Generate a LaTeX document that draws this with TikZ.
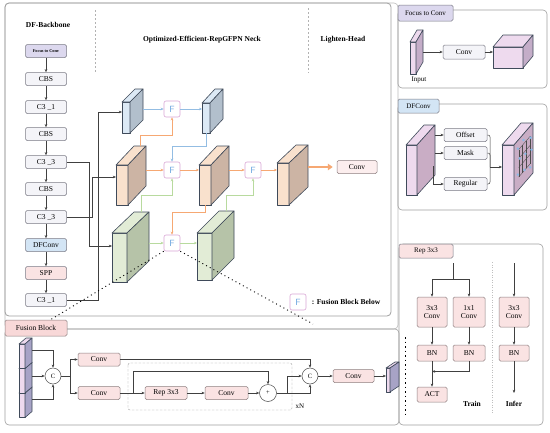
\documentclass[tikz,border=0pt]{standalone}
\usepackage{fontspec}
\setmainfont{Liberation Serif}
\usetikzlibrary{arrows.meta,calc}
\definecolor{pnl}{HTML}{A0A0A0}
\definecolor{bbf}{HTML}{F4F4F8}
\definecolor{bbd}{HTML}{7A7A85}
\definecolor{purf}{HTML}{DCD8EE}
\definecolor{bluf}{HTML}{D3E5F5}
\definecolor{pkf}{HTML}{FAE3E3}
\definecolor{pkd}{HTML}{8E7F80}
\definecolor{fusf}{HTML}{F8D8D8}
\definecolor{blF}{HTML}{DCE9F5}
\definecolor{blS}{HTML}{B2BFCC}
\definecolor{orF}{HTML}{F9E1CD}
\definecolor{orS}{HTML}{CCB4A4}
\definecolor{grF}{HTML}{E2ECD6}
\definecolor{grS}{HTML}{B6C3A8}
\definecolor{puF}{HTML}{EEDAEE}
\definecolor{puS}{HTML}{C4ADC8}
\definecolor{dfS}{HTML}{C9ADC5}
\definecolor{fuS}{HTML}{A7A3C6}
\definecolor{orL}{HTML}{F6A873}
\definecolor{blL}{HTML}{93BDE3}
\definecolor{grL}{HTML}{B8DA9E}
\definecolor{fpk}{HTML}{D9A6D6}
\definecolor{fbl}{HTML}{6FA8DF}
\definecolor{edge}{HTML}{3F4A5A}
\newcommand{\mycuboid}[9]{%
  \filldraw[blk,fill=#8] (#2,#3) rectangle ++(#4,#5);
  \filldraw[blk,fill=#8] (#2,#3) -- ++(#6,-#7) -- ++(#4,0) -- ++(-#6,#7) -- cycle;
  \filldraw[blk,fill=#9] (#2+#4,#3) -- ++(#6,-#7) -- ++(0,#5) -- ++(-#6,#7) -- cycle;
  \coordinate (#1w) at (#2,#3+#5/2);
  \coordinate (#1e) at (#2+#4+#6,#3+#5/2-#7);
  \coordinate (#1n) at (#2+#6+#4/2,#3-#7);
  \coordinate (#1s) at (#2+#4/2,#3+#5);
}
\begin{document}
\begin{tikzpicture}[x=1pt,y=-1pt,
  >={Stealth[length=3.2pt,width=2.6pt]},
  panel/.style={draw=pnl,rounded corners=4pt,line width=0.6pt},
  bb/.style={draw=bbd,fill=bbf,rounded corners=1.5pt,minimum width=41pt,minimum height=13pt,inner sep=0pt,font=\fontsize{7.5}{8}\selectfont,line width=0.5pt},
  lab/.style={draw=bbd,rounded corners=1.5pt,inner sep=0pt,font=\fontsize{7}{8}\selectfont,line width=0.5pt},
  pk/.style={draw=pkd,fill=pkf,rounded corners=1.5pt,inner sep=0pt,font=\fontsize{7.5}{8}\selectfont,line width=0.5pt,align=center},
  fb/.style={draw=fpk,fill=white,rounded corners=2pt,minimum size=16pt,inner sep=0pt,text=fbl,font=\sffamily\fontsize{9}{9}\selectfont,line width=0.6pt},
  conn/.style={draw=black!75,line width=0.5pt,->},
  ln/.style={draw=black!75,line width=0.5pt},
  ol/.style={draw=orL,line width=0.7pt,-{Stealth[length=3pt,width=2.6pt]}},
  bl/.style={draw=blL,line width=0.7pt,-{Stealth[length=3pt,width=2.6pt]}},
  gl/.style={draw=grL,line width=0.7pt,-{Stealth[length=3pt,width=2.6pt]}},
  blk/.style={draw=edge,line width=0.6pt,line join=round},
  zl/.style={black,line width=0.9pt,dash pattern=on 1pt off 3.2pt},
  ttl/.style={font=\bfseries\fontsize{7.5}{8}\selectfont},
  circ/.style={draw=black!70,circle,minimum size=16pt,inner sep=0pt,font=\fontsize{6.5}{7}\selectfont,fill=white,line width=0.5pt}
]
\useasboundingbox (0,0) rectangle (550,432);
\fill[white] (0,0) rectangle (550,432);

% ---------- frames ----------
\draw[panel,draw=pnl!70] (5,3) rectangle (398,329);
\draw[panel,line width=0.8pt] (5,3) rectangle (391,316);
\draw[panel] (5,329) rectangle (399,425);
\draw[panel] (398,10) rectangle (547,88);
\draw[panel] (398,104) rectangle (547,210);
\draw[panel] (399,244) rectangle (543,425);

\draw[gray!60,dash pattern=on 2pt off 2pt] (95,10) -- (95,73);
\draw[gray!60,dash pattern=on 2pt off 2pt] (308,8) -- (308,73);

\node[ttl] (t1) at (48,25) {DF-Backbone};
\node[ttl] (t2) at (202,40) {Optimized-Efficient-RepGFPN Neck};
\node[ttl] (t3) at (343,40) {Lighten-Head};

% ---------- backbone ----------
\node[bb,fill=purf,font=\bfseries\fontsize{4.3}{5}\selectfont] (b0) at (46,51) {Focus to Conv};
\node[bb] (b1) at (46,79) {CBS};
\node[bb] (b2) at (46,107) {C3 \_1};
\node[bb] (b3) at (46,134) {CBS};
\node[bb] (b4) at (46,162) {C3 \_3};
\node[bb] (b5) at (46,189) {CBS};
\node[bb] (b6) at (46,217) {C3 \_3};
\node[bb,fill=bluf] (b7) at (46,245) {DFConv};
\node[bb,fill=pkf] (b8) at (46,273) {SPP};
\node[bb] (b9) at (46,300) {C3 \_1};
\foreach \a/\b in {b0/b1,b1/b2,b2/b3,b3/b4,b4/b5,b5/b6,b6/b7,b7/b8,b8/b9}
  \draw[conn] (\a) -- (\b);

\coordinate (gAin) at (112,246);
\coordinate (oAin) at (116,177);
\coordinate (bAin) at (122,112);
\draw[conn] (b4.east) -| (89,246) -- (gAin);
\draw[conn] (b6.east) -| (92,177) -- (oAin);
\draw[conn] (b9.east) -| (98,112) -- (bAin);

% ---------- neck blocks ----------
\mycuboid{bA}{122}{102}{8}{31}{13}{13}{blF}{blS}
\mycuboid{bB}{202}{103}{8}{30}{13}{14}{blF}{blS}
\mycuboid{oA}{116}{165}{12}{40}{18}{19}{orF}{orS}
\mycuboid{oB}{199}{165}{12}{40}{18}{19}{orF}{orS}
\mycuboid{oC}{277}{163}{12}{42}{19}{18}{orF}{orS}
\mycuboid{gA}{112}{233}{15}{49}{22}{21}{grF}{grS}
\mycuboid{gB}{197}{233}{15}{47}{22}{22}{grF}{grS}

\node[fb] (F1) at (172,109) {F};
\node[fb] (F2) at (172,170) {F};
\node[fb] (F3) at (253,170) {F};
\node[fb] (F4) at (172,243) {F};

\draw[bl] (bAe |- F1) -- (F1.west);
\draw[bl] (F1.east) -- (F1.east -| bBw);
\draw[bl] (bBs) |- ([yshift=15pt]F2.north) -- (F2.north);
\draw[ol] (oAn) |- ([yshift=-18pt]F1.south) -- (F1.south);
\draw[ol] (oAe |- F2) -- (F2.west);
\draw[ol] (F2.east) -- (F2.east -| oBw);
\draw[ol] (oBe |- F3) -- (F3.west);
\draw[ol] (F3.east) -- (F3.east -| oCw);
\draw[gl] (gAn) |- ([yshift=-17pt]F2.south) -- (F2.south);
\draw[gl] (gBn) |- ([yshift=-17pt]F3.south) -- (F3.south);
\draw[ol] (oBs) |- ([yshift=22pt]F4.north) -- (F4.north);
\draw[gl] (gAe |- F4) -- (F4.west);
\draw[gl] (F4.east) -- (F4.east -| gBw);

\node[pk,minimum width=40pt,minimum height=13pt,fill=pkf!60] (hc) at (357,167) {Conv};
\draw[orL,line width=2.2pt,shorten >=4pt,-{Triangle[length=5pt,width=6.5pt]}] (oCe |- hc.west) -- (hc.west);

% legend
\node[fb] (F5) at (298,302) {F};
\node[ttl,anchor=west] (leg) at ([xshift=2pt]F5.east) {: Fusion Block Below};

% zoom lines
\coordinate (zL) at (50,320);
\coordinate (zR) at (313,324);
\draw[zl] (F4.south west) -- (zL);
\draw[zl] (F4.south east) -- (zR);

% ---------- Focus to Conv panel ----------
\node[lab,fill=purf,minimum width=55pt,minimum height=16pt] (l1) at (425.5,13) {Focus to Conv};
\mycuboid{fi}{410}{42}{6}{32}{7}{12}{puF}{puS}
\node[font=\fontsize{7}{8}\selectfont] (inp) at (419,80) {Input};
\node[bb,minimum width=42pt,minimum height=14pt] (fc) at (464,52) {Conv};
\mycuboid{fo}{493}{47}{30}{21}{10}{12}{puF}{puS}
\draw[conn] (fie |- fc.west) -- (fc.west);
\draw[conn] (fc.east) -- (fc.east -| fow);

% ---------- DFConv panel ----------
\node[lab,fill=bluf,minimum width=41pt,minimum height=14pt] (l2) at (418.5,106) {DFConv};
\mycuboid{dA}{406}{145}{11}{50}{18}{20}{puF}{dfS}
\node[bb,minimum width=43pt,minimum height=13pt] (off) at (465.5,135) {Offset};
\node[bb,minimum width=43pt,minimum height=13pt] (msk) at (465.5,153) {Mask};
\node[bb,minimum width=43pt,minimum height=13pt] (reg) at (465.5,184) {Regular};
\draw[conn] (dAe |- off.west) -- (off.west);
\draw[conn] (dAe |- msk.west) -- (msk.west);
\draw[conn] ([xshift=-2pt,yshift=-16pt]dAe) |- (reg.west);
\mycuboid{dB}{502}{145}{12}{50}{19}{22}{puF}{dfS}
\coordinate (mrg) at (490,167);
\draw[ln,rounded corners=2pt] (off.east) -| (mrg);
\draw[ln,rounded corners=2pt] (msk.east) -| (mrg);
\draw[ln,rounded corners=2pt] (reg.east) -| (mrg);
\draw[conn] (mrg) -- (mrg -| dBw);
\foreach \u in {0.25,0.45,0.65,0.85}
  \draw[black!70,line width=0.35pt] (514+19*\u,145-22*\u+10) -- (514+19*\u,145-22*\u+37.5);
\foreach \v in {10,19,28,37.5}
  \draw[black!70,line width=0.35pt] (514+19*0.25,145-22*0.25+\v) -- (514+19*0.85,145-22*0.85+\v);
\foreach \u/\v in {0.2/8,0.5/6,0.88/12,0.3/20,0.6/22,0.92/25,0.2/34,0.55/37,0.85/41}
  \fill[fbl!80] (514+19*\u,145-22*\u+\v) circle (1.4);

% ---------- Rep 3x3 panel ----------
\node[lab,fill=pkf,minimum width=54pt,minimum height=14pt] (l3) at (426,251) {Rep 3x3};
\node[pk,minimum width=30pt,minimum height=30pt] (r1) at (432,312) {3x3\\Conv};
\node[pk,minimum width=32pt,minimum height=30pt] (r2) at (469,312) {1x1\\Conv};
\node[pk,minimum width=30pt,minimum height=30pt] (r3) at (514,312) {3x3\\Conv};
\node[pk,minimum width=30pt,minimum height=16pt] (n1) at (432,353) {BN};
\node[pk,minimum width=32pt,minimum height=16pt] (n2) at (469,353) {BN};
\node[pk,minimum width=30pt,minimum height=16pt] (n3) at (514,353) {BN};
\node[pk,minimum width=30pt,minimum height=15pt] (a1) at (432,394.5) {ACT};
\coordinate (rin) at (453,263);
\coordinate (rsp) at (453,279);
\draw[ln] (rin) -- (rsp);
\draw[conn] (rsp) -| (r1.north);
\draw[conn] (rsp) -| (r2.north);
\draw[conn] (r1) -- (n1);
\draw[conn] (r2) -- (n2);
\draw[conn] (n1) -- (a1);
\draw[conn] (n2.south) |- ($(n1.south)!0.4!(a1.north)$);
\coordinate (iin) at (514,263);
\coordinate (iout) at (514,393);
\draw[conn] (iin) -- (r3.north);
\draw[conn] (r3) -- (n3);
\draw[conn] (n3) -- (iout);
\node[ttl] (tr) at (472,404) {Train};
\node[ttl] (ti) at (514,404) {Infer};
\draw[gray!50,dash pattern=on 1pt off 1.5pt] (492,262) -- (492,413);
\draw[black,line width=1pt,dash pattern=on 1.5pt off 3pt] (405,337) -- (405,415);

% ---------- Fusion Block panel ----------
\node[lab,fill=fusf,draw=pkd,minimum width=62pt,minimum height=16pt,font=\fontsize{7.5}{8}\selectfont] (l4) at (36,328) {Fusion Block};
\mycuboid{fs3}{19}{393}{6}{24.5}{7}{6}{puF}{fuS}
\mycuboid{fs2}{19}{368.5}{6}{24.5}{7}{6}{puF}{fuS}
\mycuboid{fs1}{19}{344}{6}{24.5}{7}{6}{puF}{fuS}
\node[circ] (C1) at (53,376) {C};
\draw[conn] (fs1e) -| (C1.north);
\draw[conn] (fs2e |- C1) -- (C1.west);
\draw[conn] (fs3e) -| (C1.south);
\node[pk,minimum width=42pt,minimum height=13pt] (cv1) at (99,359.5) {Conv};
\node[pk,minimum width=42pt,minimum height=13pt] (cv2) at (99,393) {Conv};
\coordinate (csp) at (70,376);
\draw[ln] (C1.east) -- (csp);
\draw[conn] (csp) |- (cv1.west);
\draw[conn] (csp) |- (cv2.west);
\draw[gray!75,rounded corners=2pt,dash pattern=on 2.5pt off 1.5pt] (128,363) rectangle (292,410);
\node[font=\fontsize{7}{8}\selectfont] (xn) at (300,406) {xN};
\node[pk,minimum width=42pt,minimum height=13pt] (rp) at (166,393) {Rep 3x3};
\node[pk,minimum width=43pt,minimum height=13pt] (cv3) at (226.5,393) {Conv};
\node[circ,minimum size=17pt] (P) at (268,393) {+};
\draw[conn] (cv2.east) -- (rp.west);
\coordinate (rs) at (133,393);
\draw[conn] (rs) -- ++(0,-22) -| (P.north);
\draw[conn] (rp.east) -- (cv3.west);
\draw[conn] (cv3.east) -- (P.west);
\node[circ] (C2) at (310,376) {C};
\draw[conn] (cv1.east) -| (C2.north);
\coordinate (pj) at (287,393);
\draw[conn] (pj) |- (C2.west);
\draw[conn] (P.east) -| (C2.south);
\node[pk,minimum width=41pt,minimum height=13pt] (cv4) at (353.5,376) {Conv};
\draw[conn] (C2) -- (cv4);
\mycuboid{os}{386}{368}{4}{24}{9}{6}{puF}{fuS}
\draw[conn] (cv4.east) -- (cv4.east -| osw);
\end{tikzpicture}
\end{document}
